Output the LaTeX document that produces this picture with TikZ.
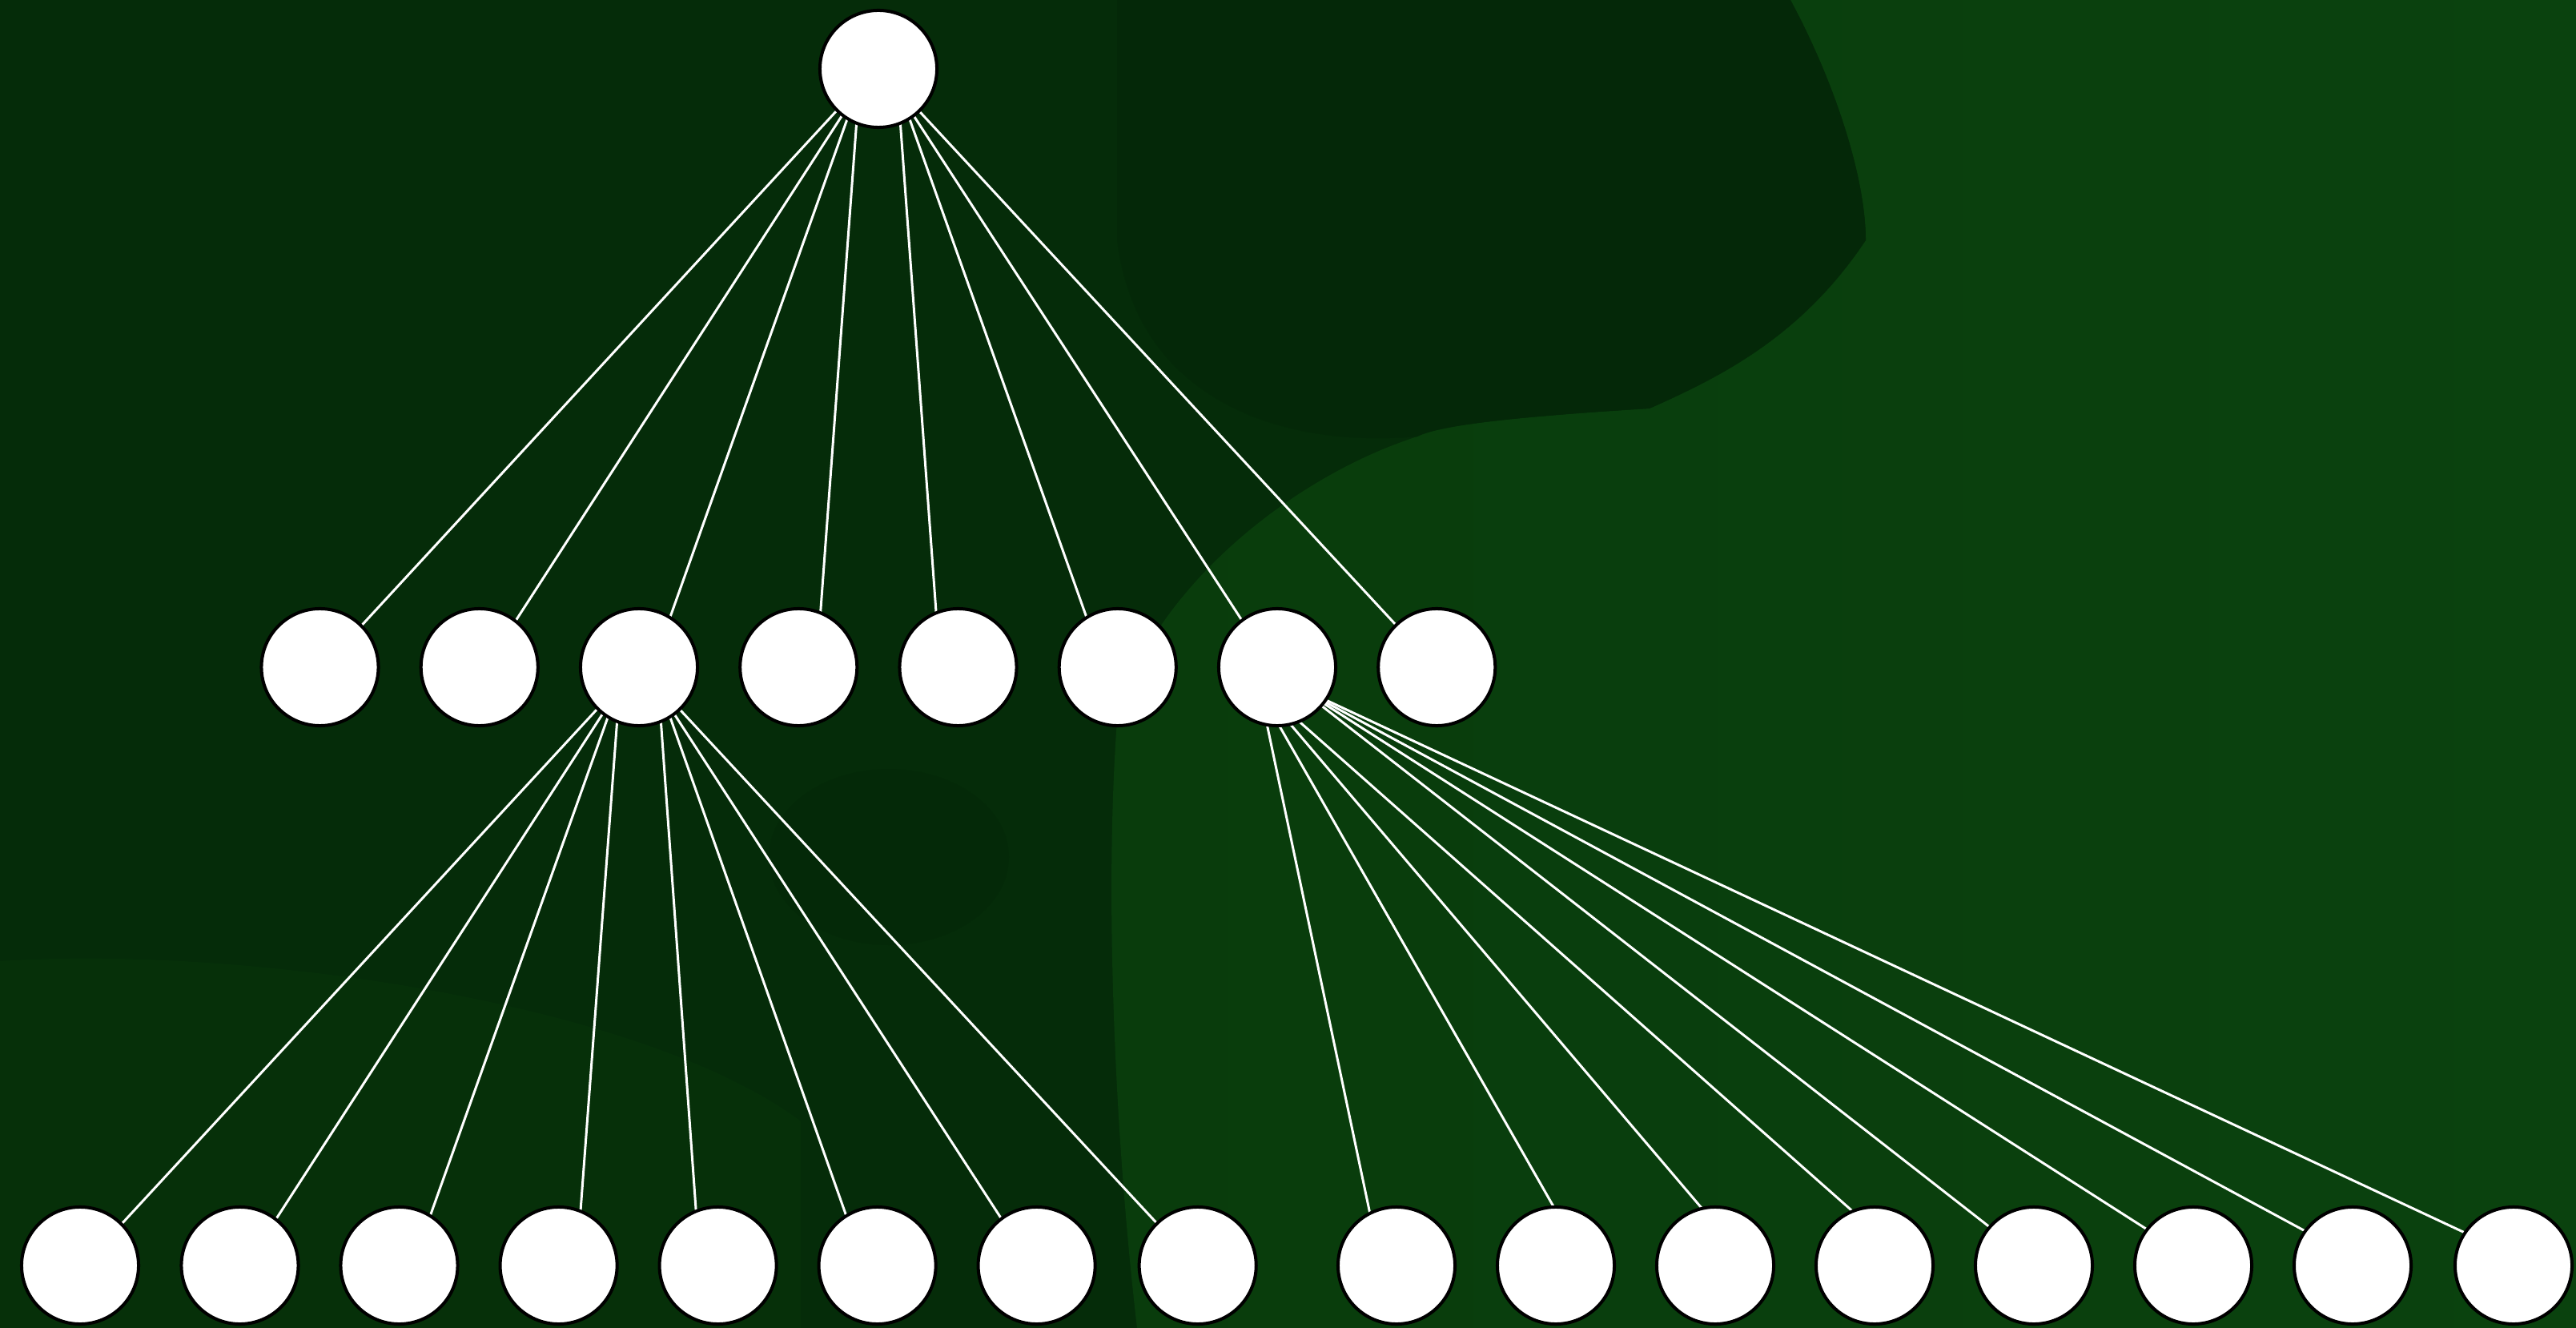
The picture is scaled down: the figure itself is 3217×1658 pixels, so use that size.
\documentclass[tikz,border=0pt]{standalone}
\definecolor{bgBase}{RGB}{5,44,9}
\definecolor{bgDark}{RGB}{4,40,8}
\definecolor{bgLight}{RGB}{9,60,12}
\definecolor{bgLighter}{RGB}{10,66,14}
\pgfdeclarelayer{back}
\pgfdeclarelayer{edges}
\pgfsetlayers{back,edges,main}
\tikzset{
  vert/.style={circle, draw=black, fill=white, line width=0.04cm, minimum size=1.46cm, inner sep=0pt, outer sep=0pt},
  edge/.style={draw=white, line width=0.03cm}
}
\begin{document}
\begin{tikzpicture}[x=0.01cm, y=-0.01cm]
\useasboundingbox (0,0) rectangle (3217,1658);
% nodes
\node[vert] (r) at (1097,86) {};
\foreach \i/\x in {0/399.5,1/598.75,2/798,3/997.25,4/1196.5,5/1395.75,6/1595,7/1794.25}
  \node[vert] (m\i) at (\x,833) {};
\foreach \i/\x in {0/100,1/299.5,2/498.5,3/697.6,4/896.6,5/1095.6,6/1294.6,7/1495.7,
                   8/1744,9/1943,10/2142,11/2341,12/2540,13/2739,14/2938,15/3139}
  \node[vert] (b\i) at (\x,1580) {};
% background
\begin{pgfonlayer}{back}
\fill[bgBase] (0,0) rectangle (3217,1658);
\fill[bgLight, opacity=0.3] (0,1200) .. controls (300,1180) and (800,1250) .. (1000,1400)
  -- (1000,1658) -- (0,1658) -- cycle;
\shade[left color=bgLight, right color=bgLighter]
  (2236,0) .. controls (2290,100) and (2330,220) .. (2330,300)
  .. controls (2250,420) and (2150,470) .. (2060,510)
  .. controls (1900,520) and (1800,530) .. (1770,545)
  .. controls (1600,600) and (1430,750) .. (1395,900)
  .. controls (1380,1100) and (1390,1400) .. (1420,1658)
  -- (3217,1658) -- (3217,0) -- cycle;
\fill[bgDark, opacity=0.8] (1395,0) -- (2236,0) .. controls (2290,100) and (2330,220) .. (2330,300)
  .. controls (2250,420) and (2150,470) .. (2060,510)
  .. controls (1900,520) and (1800,530) .. (1770,545)
  .. controls (1600,560) and (1420,500) .. (1395,300) -- cycle;
\fill[bgDark, opacity=0.6] (1110,1070) ellipse (150 and 110);
\end{pgfonlayer}
% edges
\begin{pgfonlayer}{edges}
\foreach \i/\t in {0/44.5,1/37.5,2/32,3/22}{
  \draw[edge] (r.{270-\t}) -- (m\i.{90-\t});
  \draw[edge] (m2.{270-\t}) -- (b\i.{90-\t});
}
\foreach \i/\t in {4/22,5/32,6/37.5,7/44.5}{
  \draw[edge] (r.{270+\t}) -- (m\i.{90+\t});
  \draw[edge] (m2.{270+\t}) -- (b\i.{90+\t});
}
\draw[edge] (m6.260.2) -- (b8.117);
\foreach \i/\t in {9/2.5,10/13,11/22,12/49.7,13/52.3,14/54.4,15/56.6}
  \draw[edge] (m6.{270+\t}) -- (b\i.{90+\t});
\end{pgfonlayer}
\end{tikzpicture}
\end{document}
